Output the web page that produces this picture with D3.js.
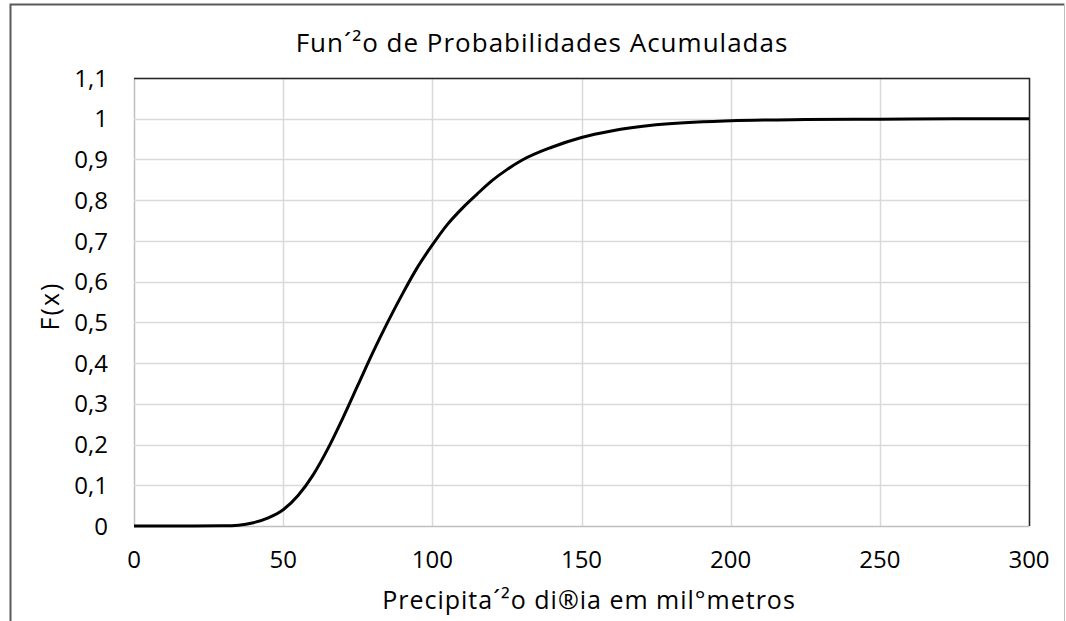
<!DOCTYPE html>
<html>
<head>
<meta charset="utf-8">
<title>Funcao de Probabilidades Acumuladas</title>
<script src="https://cdn.jsdelivr.net/npm/d3@7"></script>
<style>
  body { margin: 0; background: #fff; }
  svg text { font-family: "Open Sans", "Noto Sans", sans-serif; fill: #000; }
</style>
</head>
<body>
<svg id="chart"></svg>
<script>
const WIDTH = 1066;
const HEIGHT = 621;

// values
const precip = [0, 10, 20, 30, 35, 40, 45, 50, 55, 60, 65, 70, 75, 80, 85, 90, 95, 100,
                105, 110, 115, 120, 125, 130, 140, 150, 160, 175, 200, 225, 250, 275, 300];
const fx = [0, 0, 0, 0.0005, 0.002, 0.008, 0.02, 0.04, 0.075, 0.125, 0.19, 0.265, 0.345, 0.425,
            0.5, 0.57, 0.635, 0.69, 0.74, 0.78, 0.815, 0.848, 0.875, 0.898, 0.93, 0.954, 0.97,
            0.985, 0.995, 0.998, 0.999, 1, 1];
const xTicks = [0, 50, 100, 150, 200, 250, 300];
const yTicks = [0, 0.1, 0.2, 0.3, 0.4, 0.5, 0.6, 0.7, 0.8, 0.9, 1, 1.1];

const titleText = "Fun\u00b4\u00b2o de Probabilidades Acumuladas";
const xTitle = "Precipita\u00b4\u00b2o di\u00aeia em mil\u00b0metros";
const yTitle = "F(x)";

var svg = d3.select("#chart")
    .attr("width", WIDTH)
    .attr("height", HEIGHT);

// chart area frame (bottom is cut off)
svg.append("path")
    .attr("d", "M10.5,621 V4.5 H1064.5")
    .attr("fill", "none")
    .attr("stroke", "#595959")
    .attr("stroke-width", 2);
svg.append("line")
    .attr("x1", 1064.5).attr("x2", 1064.5)
    .attr("y1", 4).attr("y2", 621)
    .attr("stroke", "#bfbfbf");

const plot = { left: 134, right: 1029, top: 78, bottom: 526 };

var x = d3.scaleLinear().domain([0, 300]).range([plot.left, plot.right]);
var y = d3.scaleLinear().domain([0, 1.1]).range([plot.bottom, plot.top]);

// gridlines
svg.append("g").selectAll("line")
    .data(xTicks)
    .enter().append("line")
    .attr("x1", d => Math.round(x(d)) + 0.5)
    .attr("x2", d => Math.round(x(d)) + 0.5)
    .attr("y1", plot.top).attr("y2", plot.bottom)
    .attr("stroke", d => d === 0 ? "#bfbfbf" : "#d9d9d9")
    .attr("stroke-width", 1.5);

svg.append("g").selectAll("line")
    .data(yTicks)
    .enter().append("line")
    .attr("x1", plot.left).attr("x2", plot.right)
    .attr("y1", d => Math.round(y(d)) + 0.5)
    .attr("y2", d => Math.round(y(d)) + 0.5)
    .attr("stroke", d => d === 0 ? "#bfbfbf" : "#d9d9d9")
    .attr("stroke-width", 1.5);

// top and right edge of the plot area
svg.append("path")
    .attr("d", "M" + plot.left + "," + (plot.top + 0.5) + " H" + (plot.right + 0.5) + " V" + plot.bottom)
    .attr("fill", "none")
    .attr("stroke", "#262626")
    .attr("stroke-width", 1.5);

// tick labels
svg.append("g").selectAll("text")
    .data(yTicks)
    .enter().append("text")
    .attr("x", 108)
    .attr("y", d => y(d))
    .attr("dy", "0.36em")
    .attr("text-anchor", "end")
    .style("font-size", "24px")
    .text(d => String(+d.toFixed(1)).replace(".", ","));

svg.append("g").selectAll("text")
    .data(xTicks)
    .enter().append("text")
    .attr("x", d => x(d))
    .attr("y", 568)
    .attr("text-anchor", "middle")
    .style("font-size", "24px")
    .text(d => d);

// curve
var line = d3.line()
    .x((d, i) => x(precip[i]))
    .y(d => y(d))
    .curve(d3.curveMonotoneX);

svg.append("path")
    .datum(fx)
    .attr("d", line)
    .attr("fill", "none")
    .attr("stroke", "#000")
    .attr("stroke-width", 3);

// titles
svg.append("text")
    .attr("x", 542).attr("y", 52)
    .attr("text-anchor", "middle")
    .style("font-size", "26px")
    .style("letter-spacing", "1px")
    .text(titleText);

svg.append("text")
    .attr("x", 589).attr("y", 609)
    .attr("text-anchor", "middle")
    .style("font-size", "25px")
    .style("letter-spacing", "1px")
    .text(xTitle);

svg.append("text")
    .attr("transform", "translate(59,306) rotate(-90)")
    .attr("text-anchor", "middle")
    .style("font-size", "25px")
    .style("letter-spacing", "2px")
    .text(yTitle);
</script>
</body>
</html>
